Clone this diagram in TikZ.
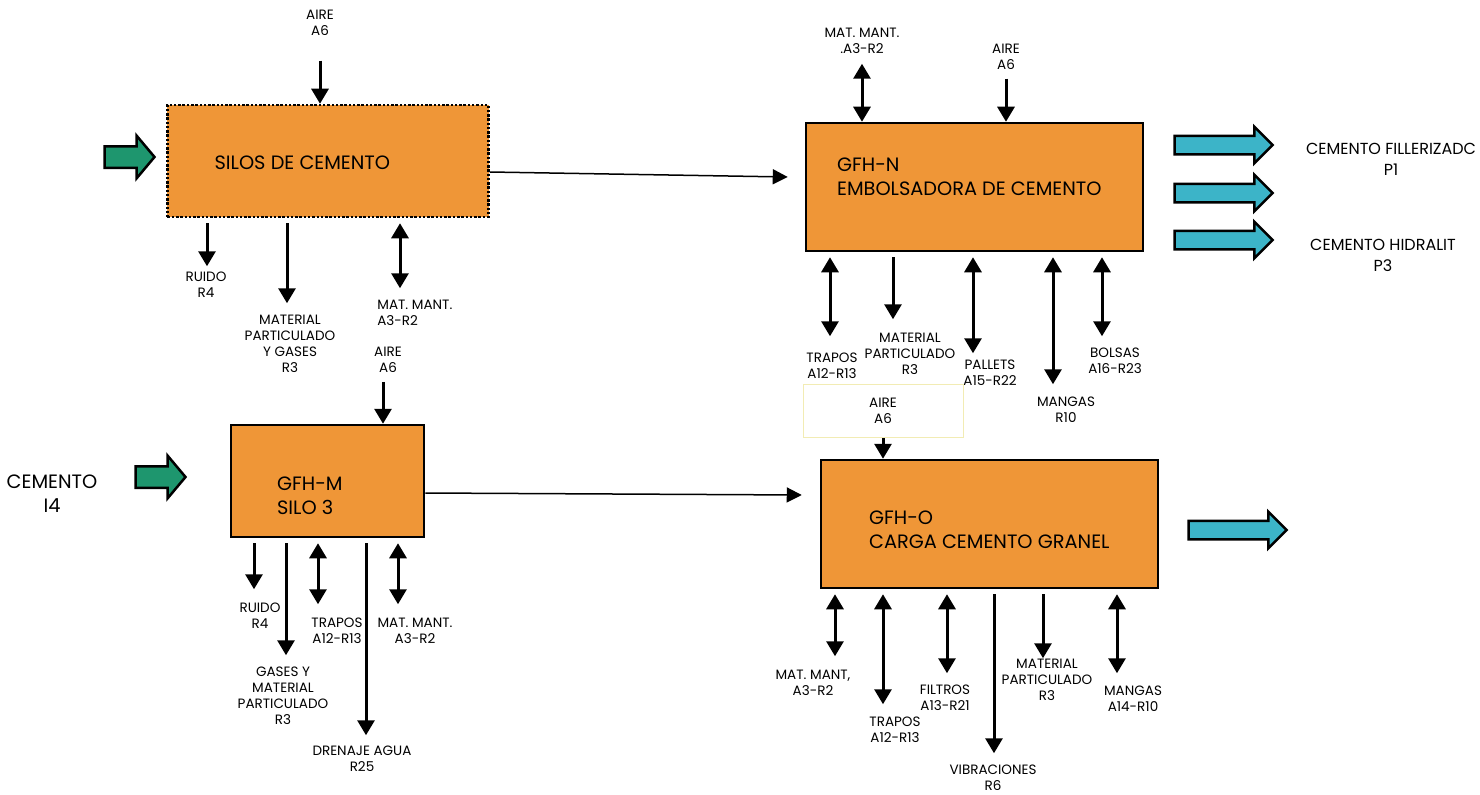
\documentclass[tikz,border=0pt]{standalone}
\usepackage{fontspec}
\setmainfont{Poppins}
\usepackage{tikz}
\usetikzlibrary{arrows.meta,positioning,calc,shapes.arrows}
\definecolor{cBox}{HTML}{EF9637}
\definecolor{cIn}{HTML}{1E966E}
\definecolor{cOut}{HTML}{3CB4C8}
\definecolor{cNote}{HTML}{F2ECB4}

\begin{document}
\begin{tikzpicture}[
  x=0.2mm, y=-0.2mm,
  proc/.style={draw=black, line width=.5mm, fill=cBox, inner sep=0pt},
  proctxt/.style={font=\fontsize{11}{13.6}\selectfont, align=left, inner sep=0pt},
  lbl/.style={font=\fontsize{7.7}{9.1}\selectfont, align=center, inner sep=0pt},
  biglbl/.style={font=\fontsize{11}{13.6}\selectfont, align=center, inner sep=0pt},
  prodlbl/.style={font=\fontsize{9.1}{12}\selectfont, align=center, inner sep=0pt},
  feed/.style={line width=.6mm, -{Triangle[width=3.4mm,length=3mm]}},
  emit/.style={feed, shorten <=1mm},
  xchg/.style={line width=.6mm, {Triangle[width=3.4mm,length=3mm]}-{Triangle[width=3.4mm,length=3mm]}},
  xchgb/.style={xchg, shorten <=1mm},
  link/.style={line width=.3mm, -{Triangle[width=3mm,length=3mm]}},
  inarrow/.style={single arrow, draw=black, line width=.5mm, fill=cIn,
    inner xsep=0pt, inner ysep=1.9mm, minimum height=10mm,
    single arrow head extend=2.1mm, single arrow tip angle=100},
  prodarrow/.style={inarrow, fill=cOut, inner ysep=1.6mm, minimum height=19.6mm,
    single arrow head extend=1.8mm, single arrow tip angle=90},
]
\useasboundingbox (0,0) rectangle (1480,795);

% Process boxes
\node[proc, densely dotted, minimum width=64.2mm, minimum height=22.4mm] (silos) at (328,161) {};
\node[proctxt, right=9.6mm of silos.west, yshift=-.4mm] (silostxt) {SILOS DE CEMENTO};
\node[proc, minimum width=67.4mm, minimum height=25.6mm] (gfhn) at (974.5,187) {};
\node[proctxt, right=6.4mm of gfhn.west, yshift=2mm] (gfhntxt) {GFH-N\\EMBOLSADORA DE CEMENTO};
\node[proc, minimum width=38.6mm, minimum height=22.4mm] (gfhm) at (327.5,481) {};
\node[proctxt, right=9.4mm of gfhm.west, yshift=-3mm] (gfhmtxt) {GFH-M\\SILO 3};
\node[proc, minimum width=67.4mm, minimum height=25.6mm] (gfho) at (989.5,524) {};
\node[proctxt, right=9.8mm of gfho.west, yshift=-1.1mm] (gfhotxt) {GFH-O\\CARGA CEMENTO GRANEL};

% Inputs and products
\node[inarrow] (inS) at (125,157) {};
\node[inarrow] (inM) at (156,477) {};
\node[biglbl] (cemI) at (52,494) {CEMENTO\\I4};
\node[prodarrow] (pN1) at (1219,145) {};
\node[prodarrow] (pN2) at (1219,193) {};
\node[prodarrow] (pN3) at (1219,240) {};
\node[prodarrow] (pO) at (1233,530) {};
\node[prodlbl] (p1) at (1391,159) {CEMENTO FILLERIZADC\\P1};
\node[prodlbl] (p3) at (1383,255) {CEMENTO HIDRALIT\\P3};

% Links
\draw[link] ($(silos.east)+(0,11)$) -- ($(gfhn.west)+(-17,-10)$);
\draw[link] ($(gfhm.east)+(0,12)$) -- ($(gfho.west)+(-18,-29)$);

% Silos
\node[lbl] (sAir) at (320,23) {AIRE\\A6};
\draw[feed] (silos.north -| sAir) ++(0,-43) -- ++(0,43);
\node[lbl] (sRuido) at (206,285) {RUIDO\\R4};
\draw[emit] (silos.south -| 207,0) -- ++(0,48);
\node[lbl] (sPart) at (290,344) {MATERIAL\\PARTICULADO\\Y GASES\\R3};
\draw[emit] (silos.south -| 287,0) -- ++(0,85);
\node[lbl, align=left, anchor=west] (sMant) at (377,313) {MAT. MANT.\\A3-R2};
\draw[xchgb] (silos.south -| 400,0) -- ++(0,70);

% GFH-M
\node[lbl] (mAir) at (388,360) {AIRE\\A6};
\draw[feed] (gfhm.north -| 383,0) ++(0,-42) -- ++(0,42);
\node[lbl] (mRuido) at (260,616) {RUIDO\\R4};
\draw[emit] (gfhm.south -| 254,0) -- ++(0,51);
\node[lbl] (mGas) at (283,696) {GASES Y\\MATERIAL\\PARTICULADO\\R3};
\draw[emit] (gfhm.south -| 286,0) -- ++(0,117);
\node[lbl] (mTrap) at (337,631) {TRAPOS\\A12-R13};
\draw[xchgb] (gfhm.south -| 318,0) -- ++(0,66);
\node[lbl] (mDren) at (362,759) {DRENAJE AGUA\\R25};
\draw[emit] (gfhm.south -| 366,0) -- ++(0,197);
\node[lbl] (mMant) at (415,631) {MAT. MANT.\\A3-R2};
\draw[xchgb] (gfhm.south -| 398,0) -- ++(0,66);

% GFH-N
\node[lbl] (nMant) at (862,41) {MAT. MANT.\\.A3-R2};
\draw[xchg] (gfhn.north -| nMant) ++(0,-58) -- ++(0,58);
\node[lbl] (nAir) at (1006,57) {AIRE\\A6};
\draw[feed] (gfhn.north -| nAir) ++(0,-43) -- ++(0,43);
\node[lbl] (nTrap) at (832,366) {TRAPOS\\A12-R13};
\draw[xchgb] (gfhn.south -| 830,0) -- ++(0,84);
\node[lbl] (nPart) at (910,354) {MATERIAL\\PARTICULADO\\R3};
\draw[emit] (gfhn.south -| 893,0) -- ++(0,67);
\node[lbl] (nPal) at (990,373) {PALLETS\\A15-R22};
\draw[xchgb] (gfhn.south -| 973,0) -- ++(0,101);
\node[lbl] (nMang) at (1066,410) {MANGAS\\R10};
\draw[xchgb] (gfhn.south -| 1053,0) -- ++(0,132);
\node[lbl] (nBols) at (1115,361) {BOLSAS\\A16-R23};
\draw[xchgb] (gfhn.south -| 1102,0) -- ++(0,84);

% GFH-O
\node[lbl, draw=cNote, line width=.2mm, minimum width=32mm, minimum height=10.6mm] (oAir) at (883,411) {AIRE\\A6};
\draw[feed] (oAir.south) -- (gfho.north -| oAir);
\node[lbl] (oMant) at (813,683) {MAT. MANT,\\A3-R2};
\draw[xchgb] (gfho.south -| 835,0) -- ++(0,67);
\node[lbl] (oTrap) at (895,730) {TRAPOS\\A12-R13};
\draw[xchgb] (gfho.south -| 883,0) -- ++(0,115);
\node[lbl] (oFilt) at (945,698) {FILTROS\\A13-R21};
\draw[xchgb] (gfho.south -| 947,0) -- ++(0,84);
\node[lbl] (oVib) at (993,778) {VIBRACIONES\\R6};
\draw[emit] (gfho.south -| 994,0) -- ++(0,164);
\node[lbl] (oPart) at (1047,680) {MATERIAL\\PARTICULADO\\R3};
\draw[emit] (gfho.south -| 1043,0) -- ++(0,69);
\node[lbl] (oMang) at (1133,699) {MANGAS\\A14-R10};
\draw[xchgb] (gfho.south -| 1117,0) -- ++(0,84);
\end{tikzpicture}
\end{document}
